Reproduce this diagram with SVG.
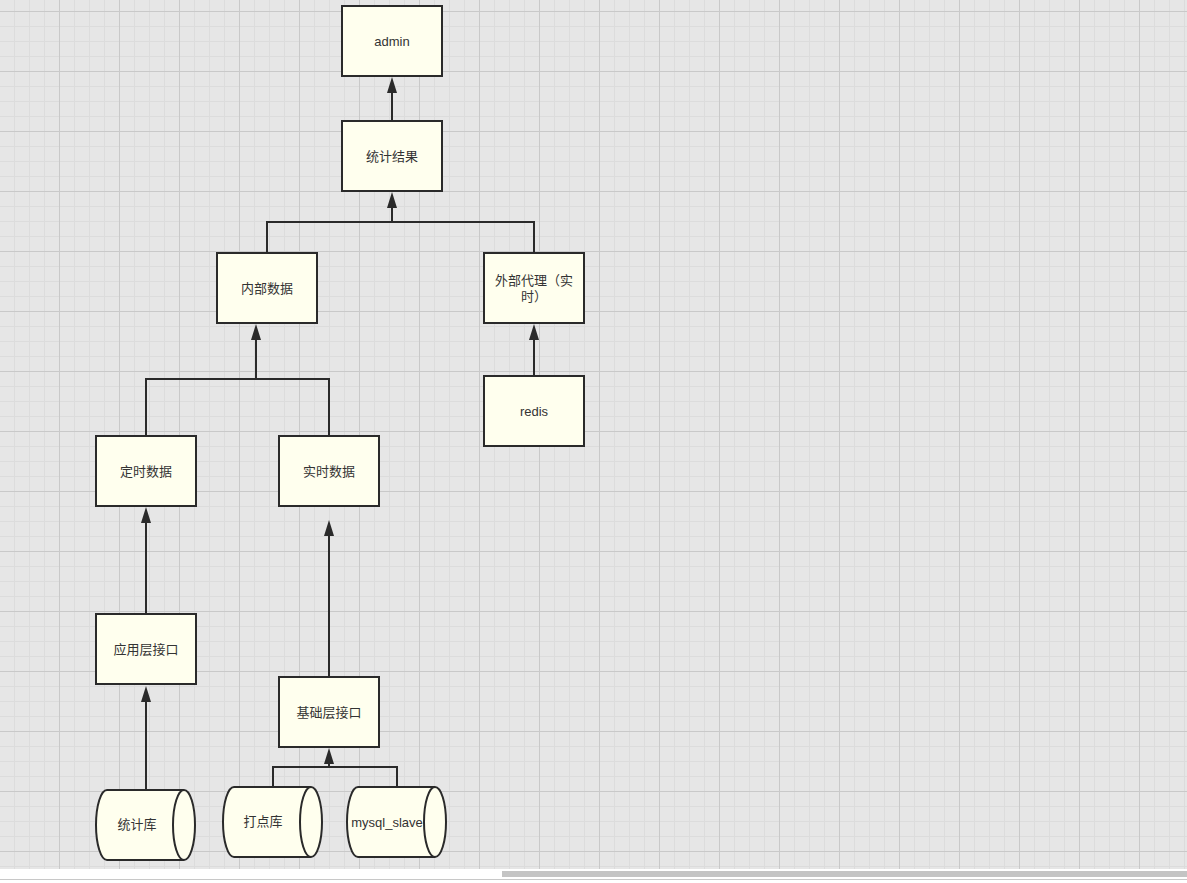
<svg xmlns="http://www.w3.org/2000/svg" width="1187" height="883" viewBox="0 0 1187 883">
<defs>
<pattern id="grid" patternUnits="userSpaceOnUse" x="59" y="11" width="60" height="60">
<rect x="0" y="0" width="60" height="60" fill="#e6e6e6"/>
<g fill="#dcdcdc">
<rect x="15" y="0" width="1" height="60"/><rect x="30" y="0" width="1" height="60"/><rect x="45" y="0" width="1" height="60"/>
<rect x="0" y="15" width="60" height="1"/><rect x="0" y="30" width="60" height="1"/><rect x="0" y="45" width="60" height="1"/>
</g>
<g fill="#c9c9c9">
<rect x="0" y="0" width="1" height="60"/><rect x="0" y="0" width="60" height="1"/>
</g>
</pattern>
<style>
.box{fill:#ffffee;stroke:#2a2a2a;stroke-width:2}
.cyl{fill:#ffffee;stroke:#2a2a2a;stroke-width:2}
.lbl{font-family:"Liberation Sans","Noto Sans CJK SC",sans-serif;font-size:13px;fill:#333;text-anchor:middle;dominant-baseline:central}
.con{fill:none;stroke:#2a2a2a;stroke-width:2}
.head{fill:#2a2a2a}
</style>
</defs>
<rect x="0" y="0" width="1187" height="883" fill="#ffffff"/>
<rect x="0" y="0" width="1187" height="869" fill="url(#grid)"/>
<rect x="502" y="871" width="685" height="6" fill="#c4c4c4"/>
<rect x="0" y="879" width="1187" height="1" fill="#c8c8c8"/>

<g id="connectors">
<path class="con" d="M392,121 L392,93"/><path class="head" d="M387,93 L392,77 L397,93 Z"/>
<path class="con" d="M267,253 L267,222 L534,222 L534,253 M392,222 L392,208"/><path class="head" d="M387,208 L392,192 L397,208 Z"/>
<path class="con" d="M534,376 L534,340"/><path class="head" d="M529,340 L534,324 L539,340 Z"/>
<path class="con" d="M146,436 L146,379 L329,379 L329,436 M256,379 L256,340"/><path class="head" d="M251,340 L256,324 L261,340 Z"/>
<path class="con" d="M146,614 L146,523"/><path class="head" d="M141,523 L146,507 L151,523 Z"/>
<path class="con" d="M329,677 L329,536"/><path class="head" d="M324,536 L329,520 L334,536 Z"/>
<path class="con" d="M146,790 L146,702"/><path class="head" d="M141,702 L146,686 L151,702 Z"/>
<path class="con" d="M273,787 L273,767 L397,767 L397,787 M329,767 L329,764"/><path class="head" d="M324,764 L329,748 L334,764 Z"/>
</g>

<g id="admin"><rect class="box" x="342" y="6" width="100" height="70"/><text class="lbl" x="392" y="41">admin</text></g>
<g id="tongji-jieguo"><rect class="box" x="342" y="121" width="100" height="70"/><text class="lbl" x="392" y="156">统计结果</text></g>
<g id="neibu-shuju"><rect class="box" x="217" y="253" width="100" height="70"/><text class="lbl" x="267" y="288">内部数据</text></g>
<g id="waibu-daili"><rect class="box" x="484" y="253" width="100" height="70"/><text class="lbl" x="534" y="280">外部代理（实</text><text class="lbl" x="534" y="296">时）</text></g>
<g id="redis"><rect class="box" x="484" y="376" width="100" height="70"/><text class="lbl" x="534" y="411">redis</text></g>
<g id="dingshi-shuju"><rect class="box" x="96" y="436" width="100" height="70"/><text class="lbl" x="146" y="471">定时数据</text></g>
<g id="shishi-shuju"><rect class="box" x="279" y="436" width="100" height="70"/><text class="lbl" x="329" y="471">实时数据</text></g>
<g id="yingyong-jiekou"><rect class="box" x="96" y="614" width="100" height="70"/><text class="lbl" x="146" y="649">应用层接口</text></g>
<g id="jichu-jiekou"><rect class="box" x="279" y="677" width="100" height="70"/><text class="lbl" x="329" y="712">基础层接口</text></g>

<g id="tongjiku">
<path class="cyl" d="M107,790 L184,790 A11,35 0 0 1 184,860 L107,860 A11,35 0 0 1 107,790 Z"/>
<path class="cyl" d="M184,790 A11,35 0 0 0 184,860" fill="none"/>
<text class="lbl" x="137" y="824">统计库</text>
</g>
<g id="dadianku">
<path class="cyl" d="M234,787 L311,787 A11,35 0 0 1 311,857 L234,857 A11,35 0 0 1 234,787 Z"/>
<path class="cyl" d="M311,787 A11,35 0 0 0 311,857" fill="none"/>
<text class="lbl" x="263" y="821">打点库</text>
</g>
<g id="mysql-slave">
<path class="cyl" d="M358,787 L435,787 A11,35 0 0 1 435,857 L358,857 A11,35 0 0 1 358,787 Z"/>
<path class="cyl" d="M435,787 A11,35 0 0 0 435,857" fill="none"/>
<text class="lbl" x="387" y="822">mysql_slave</text>
</g>
</svg>
